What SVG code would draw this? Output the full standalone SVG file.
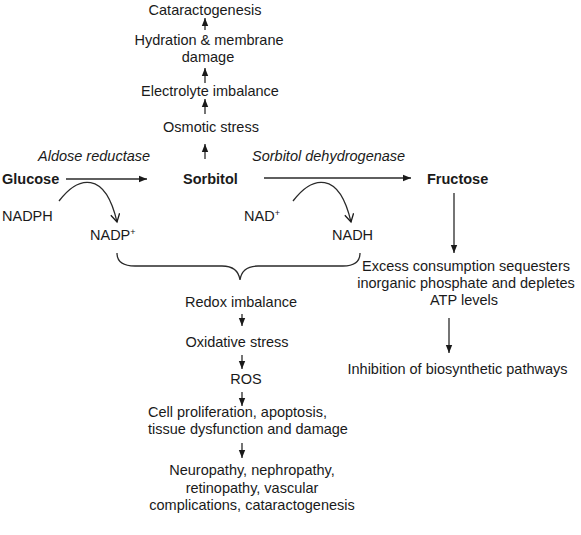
<svg xmlns="http://www.w3.org/2000/svg" width="581" height="535" viewBox="0 0 581 535">
<style>
text{font-family:"Liberation Sans",Arial,sans-serif;font-size:14.5px;fill:#1a1a1a}
.b{font-weight:bold}
.i{font-style:italic}
.m{text-anchor:middle}
.a{stroke:#2a2a2a;stroke-width:1.3;fill:none;marker-end:url(#tri)}
.c{stroke:#2a2a2a;stroke-width:1.3;fill:none;marker-end:url(#vee)}
.br{stroke:#2a2a2a;stroke-width:1.3;fill:none}
</style>
<defs>
<marker id="tri" markerUnits="userSpaceOnUse" markerWidth="10" markerHeight="10" refX="8" refY="4" orient="auto">
<path d="M0,0.8 L8,4 L0,7.2 z" fill="#1a1a1a"/>
</marker>
<marker id="vee" markerUnits="userSpaceOnUse" markerWidth="12" markerHeight="12" refX="9" refY="5" orient="auto">
<path d="M1,0.5 L9,5 L1,9.5" fill="none" stroke="#1a1a1a" stroke-width="1.3"/>
</marker>
</defs>
<rect width="581" height="535" fill="#fff"/>
<g id="connectors">
<line class="a" x1="205" y1="30" x2="205" y2="18"/>
<line class="a" x1="205" y1="83" x2="205" y2="68"/>
<line class="a" x1="205" y1="114" x2="205" y2="99"/>
<line class="a" x1="205" y1="159" x2="205" y2="144"/>
<line class="a" x1="66" y1="179" x2="147" y2="179"/>
<line class="a" x1="264" y1="178" x2="411" y2="178"/>
<path class="c" d="M59,201 C78,176 105,170 117,222"/>
<path class="c" d="M293,201 C312,176 339,170 351,222"/>
<path class="br" d="M117,253 Q117,266 135,266 L222,266 Q238,266 240,280 Q242,266 258,266 L343,266 Q360,266 360,253"/>
<line class="a" x1="454" y1="193" x2="454" y2="253"/>
<line class="a" x1="449" y1="318" x2="449" y2="353"/>
<line class="a" x1="242" y1="314" x2="242" y2="326"/>
<line class="a" x1="242" y1="355" x2="242" y2="369"/>
<line class="a" x1="242" y1="392" x2="242" y2="406"/>
<line class="a" x1="242" y1="443" x2="242" y2="458"/>
</g>
<g id="cataractogenesis"><text class="m" x="205" y="15">Cataractogenesis</text></g>
<g id="hydration"><text class="m" x="209" y="45">Hydration &amp; membrane</text><text class="m" x="208" y="62">damage</text></g>
<g id="electrolyte"><text class="m" x="210" y="96">Electrolyte imbalance</text></g>
<g id="osmotic"><text class="m" x="211" y="132">Osmotic stress</text></g>
<g id="aldose"><text class="i" x="38" y="161">Aldose reductase</text></g>
<g id="sdh"><text class="i" x="252" y="161">Sorbitol dehydrogenase</text></g>
<g id="glucose"><text class="b" x="2" y="184">Glucose</text></g>
<g id="sorbitol"><text class="b" x="183" y="184">Sorbitol</text></g>
<g id="fructose"><text class="b" x="427" y="184">Fructose</text></g>
<g id="nadph"><text x="2" y="221">NADPH</text></g>
<g id="nadp"><text x="90" y="240">NADP<tspan font-size="9" dy="-5">+</tspan></text></g>
<g id="nad"><text x="244" y="221">NAD<tspan font-size="9" dy="-5">+</tspan></text></g>
<g id="nadh"><text x="332" y="240">NADH</text></g>
<g id="excess"><text class="m" x="466" y="271">Excess consumption sequesters</text><text class="m" x="466" y="288">inorganic phosphate and depletes</text><text class="m" x="464" y="305">ATP levels</text></g>
<g id="inhibition"><text class="m" x="457.5" y="374">Inhibition of biosynthetic pathways</text></g>
<g id="redox"><text class="m" x="241" y="307">Redox imbalance</text></g>
<g id="oxidative"><text class="m" x="237" y="347">Oxidative stress</text></g>
<g id="ros"><text class="m" x="246" y="384">ROS</text></g>
<g id="cell"><text x="148" y="417">Cell proliferation, apoptosis,</text><text x="148" y="434">tissue dysfunction and damage</text></g>
<g id="neuro"><text class="m" x="252" y="475">Neuropathy, nephropathy,</text><text class="m" x="252" y="493">retinopathy, vascular</text><text class="m" x="252" y="510">complications, cataractogenesis</text></g>
</svg>
